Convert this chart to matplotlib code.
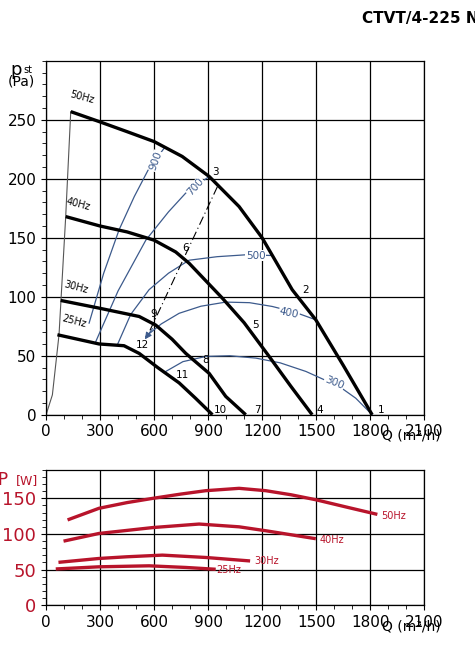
import matplotlib
matplotlib.use("Agg")
import matplotlib.pyplot as plt
from matplotlib.ticker import MultipleLocator

# ---- pressure curves (Q m3/h, p Pa)
q50 = [137, 294, 450, 600, 756, 906, 1072, 1200, 1367, 1498, 1650, 1811]
p50 = [257, 248.6, 240, 231.6, 219, 202, 176.5, 150, 106, 80.5, 42, 0]
q40 = [109, 300, 450, 600, 720, 794, 978, 1100, 1239, 1360, 1478]
p40 = [168, 160, 155, 148, 138, 128.5, 99, 78, 49.4, 24, 0]
q30 = [81, 294, 517, 609, 700, 776, 906, 998, 1109]
p30 = [96.9, 90.4, 83.3, 76, 64, 52, 35, 15.5, 0]
q25 = [63, 294, 433, 517, 620, 739, 830, 924]
p25 = [67.8, 60, 58.5, 52, 40, 27, 14, 0]
q_sys = [0, 35, 72, 109, 137]
p_sys = [0, 16.8, 68, 168, 257]

# ---- iso lines (blue)
q900 = [239, 320, 406, 490, 572, 656]
p900 = [77.7, 120, 157, 185, 209, 226]
q700 = [276, 400, 554, 680, 776, 906]
p700 = [62, 105, 148, 172, 188, 202]
q500 = [396, 470, 572, 680, 794, 950, 1109, 1256]
p500 = [59.3, 85, 106, 120, 131, 134, 135.6, 135]
q400 = [554, 640, 739, 860, 998, 1130, 1256, 1380, 1498]
p400 = [66.4, 77, 86, 92, 95.5, 95, 91.8, 87, 80.5]
q300 = [665, 760, 887, 1020, 1165, 1300, 1443, 1540, 1628, 1720, 1811]
p300 = [36.7, 45, 49.4, 50, 48, 44, 36.7, 30, 24, 14, 0]
iso_labels = ["900", "700", "500", "400", "300"]

# ---- power curves (Q, W)
w50_q = [128, 294, 450, 594, 750, 887, 1072, 1220, 1360, 1498, 1680, 1831]
w50_p = [120.5, 136, 144, 150, 156, 160.7, 164, 160.7, 155, 148, 137, 128]
w40_q = [106, 294, 450, 594, 850, 1072, 1220, 1489]
w40_p = [90.4, 100.7, 105, 109, 113.9, 110, 104.5, 93.7]
w30_q = [78, 294, 450, 646, 887, 1124]
w30_p = [60.4, 65.6, 68, 70.3, 67, 62.3]
w25_q = [63, 294, 572, 776, 933]
w25_p = [51, 53.9, 55.3, 53, 50.6]
hz = ["50Hz", "40Hz", "30Hz", "25Hz"]

fig = plt.figure(figsize=(4.75, 6.48), dpi=100)
ax = fig.add_axes([0.097, 0.360, 0.796, 0.546])
ax2 = fig.add_axes([0.097, 0.066, 0.796, 0.209])

for a in (ax, ax2):
    a.set_xlim(0, 2100)
    a.xaxis.set_major_locator(MultipleLocator(300))
    a.xaxis.set_minor_locator(MultipleLocator(100))
    a.grid(True, which="major", color="black", lw=0.9)
    a.set_axisbelow(True)
    a.tick_params(which="both", direction="out", labelsize=11)
    a.tick_params(which="minor", length=3)
    for s in a.spines.values():
        s.set_linewidth(0.9)

ax.set_ylim(0, 300)
ax.yaxis.set_major_locator(MultipleLocator(50))
ax.yaxis.set_minor_locator(MultipleLocator(10))
ax.set_yticks([0, 50, 100, 150, 200, 250])

blue = "#3c5a8c"
for qq, pp, lab, pos, rot in [
    (q900, p900, "900", (609, 215), 70),
    (q700, p700, "700", (831, 193), 48),
    (q500, p500, "500", (1165, 135), 0),
    (q400, p400, "400", (1350, 86), -12),
    (q300, p300, "300", (1600, 27), -22)]:
    ax.plot(qq, pp, color=blue, lw=0.9)
    ax.text(pos[0], pos[1], lab, color=blue, fontsize=7.5, rotation=rot,
            ha="center", va="center",
            bbox=dict(facecolor="white", edgecolor="none", pad=0.5))

ax.plot(q_sys, p_sys, color="#555555", lw=0.8)
ax.plot([952, 560], [193.5, 66], color="black", lw=0.8, dashes=(8, 3, 1, 3))
ax.annotate("", xy=(540, 62), xytext=(600, 75),
            arrowprops=dict(arrowstyle="-|>", color=blue, lw=0.8))

for qq, pp in [(q50, p50), (q40, p40), (q30, p30), (q25, p25)]:
    ax.plot(qq, pp, color="black", lw=2.4, solid_capstyle="butt")

for lab, (x, y) in zip(hz, [(200, 262), (181, 172), (167, 101), (158, 72)]):
    ax.text(x, y, lab, fontsize=7, rotation=-15, ha="center", va="bottom")

for t, x, y in [("1", 1859, 4), ("2", 1443, 106), ("3", 943, 206), ("4", 1520, 4),
                ("5", 1161, 76), ("6", 776, 141), ("7", 1175, 4), ("8", 887, 46),
                ("9", 600, 85), ("10", 970, 4), ("11", 756, 34), ("12", 535, 59)]:
    ax.text(x, y, t, fontsize=7.5, ha="center", va="center")

ax.text(2030, -12, "Q (m³/h)", fontsize=10, ha="center", va="top", clip_on=False)
fig.text(0.035, 0.885, "p", fontsize=13, ha="center")
fig.text(0.058, 0.887, "st", fontsize=7, ha="center")
fig.text(0.045, 0.868, "(Pa)", fontsize=10, ha="center")
fig.text(0.885, 0.965, "CTVT/4-225 N", fontsize=11, weight="bold", ha="center")

# ---- power chart
red = "#b8142b"
ax2.set_ylim(0, 190)
ax2.set_yticks([0, 50, 100, 150])
ax2.yaxis.set_minor_locator(MultipleLocator(10))
ax2.tick_params(axis="y", colors="black", labelcolor=red, labelsize=13)
ax2.tick_params(axis="x", labelsize=11)
for qq, pp in [(w50_q, w50_p), (w40_q, w40_p), (w30_q, w30_p), (w25_q, w25_p)]:
    ax2.plot(qq, pp, color=red, lw=2.4)
for lab, (x, y) in zip(hz, [(1859, 125.6), (1517, 91), (1155, 61.6), (946, 49.6)]):
    ax2.text(x, y, lab, color=red, fontsize=7, ha="left", va="center")
ax2.text(2030, -20, "Q (m³/h)", fontsize=10, ha="center", va="top", clip_on=False)
fig.text(0.015, 0.80 - 0.0, "", fontsize=1)
ax2.text(-270, 175, "P", color=red, fontsize=12, ha="left", va="center", clip_on=False)
ax2.text(-170, 175, "[W]", color=red, fontsize=9, ha="left", va="center", clip_on=False)

fig.savefig("out.png", dpi=100)
